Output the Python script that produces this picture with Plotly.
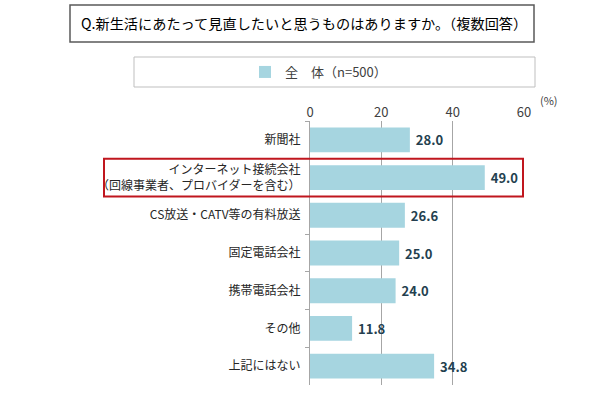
import plotly.graph_objects as go

categories = ["新聞社", "インターネット接続会社<br>（回線事業者、プロバイダーを含む）",
              "CS放送・CATV等の有料放送", "固定電話会社", "携帯電話会社", "その他", "上記にはない"]
values = [28.0, 49.0, 26.6, 25.0, 24.0, 11.8, 34.8]
series_name = "全　体（n=500）"
tick_vals = [0, 20, 40, 60]

FONT = "Noto Sans CJK JP"
L, R, T, B = 310, 524, 121, 385
W, H = R - L, B - T

def px(x):
    return (x - L) / W

def py(y):
    return (B - y) / H

fig = go.Figure()
fig.add_trace(go.Bar(
    y=categories, x=values, orientation="h", name=series_name,
    marker=dict(color="#A6D5E0", line=dict(width=0)),
    text=[f"\u00a0{v:.1f}" for v in values], textposition="outside",
    textfont=dict(family=FONT, size=13, color="#243F4F", weight="bold"),
    cliponaxis=False, showlegend=True,
))

fig.update_layout(
    width=610, height=400,
    margin=dict(l=L, r=610 - R, t=T, b=400 - B),
    paper_bgcolor="white", plot_bgcolor="white",
    font=dict(family=FONT, size=12, color="#262626"),
    bargap=0.34,
    xaxis=dict(range=[0, 60], tickvals=tick_vals, side="top", showgrid=True,
               gridcolor="#A6A6A6", gridwidth=1, zeroline=False, showline=False,
               ticks="", tickfont=dict(size=13, color="#404040"), fixedrange=True),
    yaxis=dict(categoryorder="array", categoryarray=categories, autorange="reversed",
               showline=True, linecolor="#A6A6A6", linewidth=1, ticks="outside",
               tickson="boundaries", ticklen=4, tickcolor="#A6A6A6",
               tickfont=dict(size=12, color="#262626"), ticklabelstandoff=6,
               showgrid=False, zeroline=False),
    legend=dict(orientation="h", x=px(245), y=py(72), xanchor="left", yanchor="middle",
                font=dict(size=13, color="#404040"), bgcolor="rgba(0,0,0,0)",
                itemwidth=30),
    shapes=[
        dict(type="rect", xref="paper", yref="paper", x0=px(70), x1=px(534),
             y0=py(42), y1=py(5), line=dict(color="#595959", width=1.5)),
        dict(type="rect", xref="paper", yref="paper", x0=px(134), x1=px(535),
             y0=py(87), y1=py(57), line=dict(color="#BFBFBF", width=1)),
        dict(type="rect", xref="paper", yref="y", x0=px(104), x1=px(523),
             y0=0.5, y1=1.5, line=dict(color="#C0161E", width=2)),
    ],
    annotations=[
        dict(text="Q.新生活にあたって見直したいと思うものはありますか。（複数回答）",
             xref="paper", yref="paper", x=px(79), y=py(23), xanchor="left",
             yanchor="middle", showarrow=False, font=dict(size=14.2, color="#000000")),
        dict(text="(%)", xref="paper", yref="paper", x=px(538), y=py(100),
             xanchor="left", yanchor="middle", showarrow=False,
             font=dict(size=11, color="#404040")),
    ],
)

fig.write_html("out.html", config={"displayModeBar": False})
with open("out.html", encoding="utf-8") as f:
    html = f.read()
html = html.replace("<head>", "<head><style>html,body{margin:0;padding:0;}</style>", 1)
with open("out.html", "w", encoding="utf-8") as f:
    f.write(html)
